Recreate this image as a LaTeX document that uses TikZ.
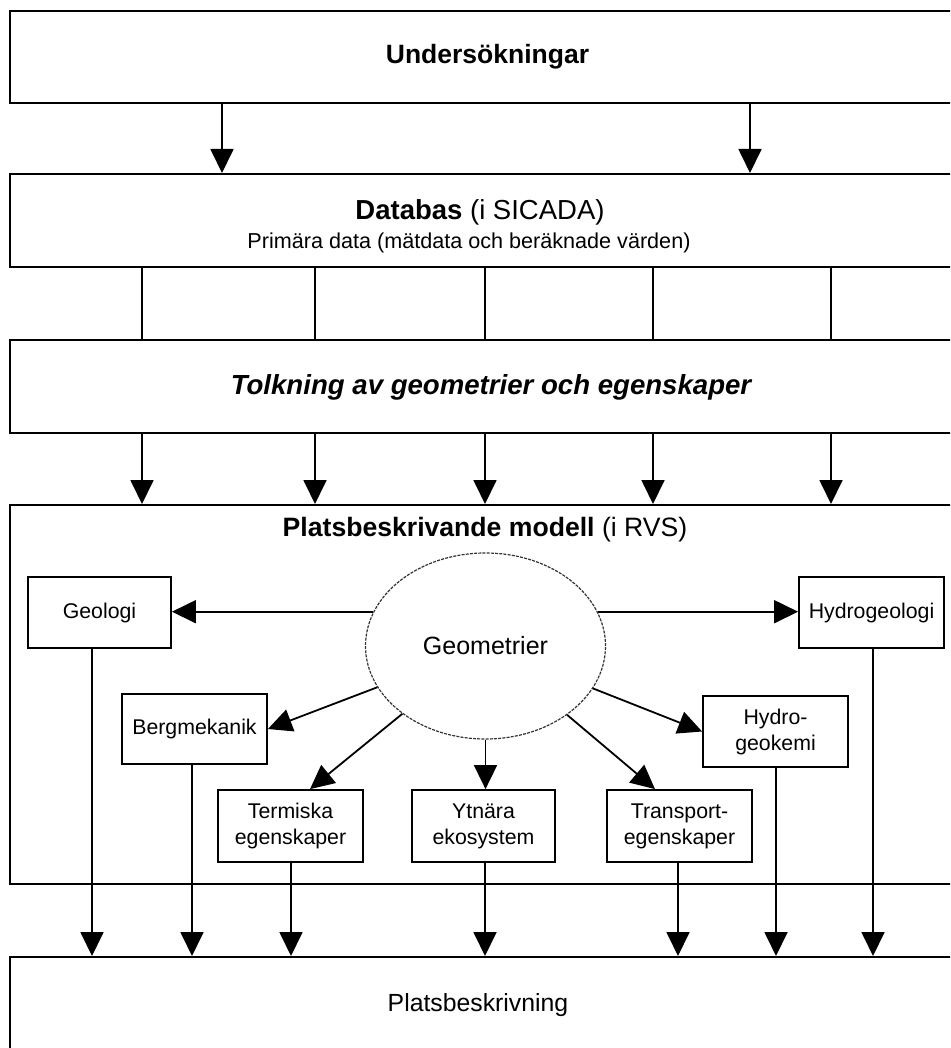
\documentclass[tikz,border=0pt]{standalone}
\usepackage{fontspec}
\setmainfont{Liberation Sans}
\usetikzlibrary{arrows.meta,shapes.geometric}
\begin{document}
\begin{tikzpicture}[x=1pt,y=-1pt,
  bigbox/.style={draw, line width=2pt, minimum width=955pt, inner sep=0pt, align=center, font=\fontsize{26.5}{29}\selectfont},
  smallbox/.style={draw, line width=1.8pt, minimum width=145pt, minimum height=71pt, inner sep=2pt, align=center, font=\fontsize{21.3}{26}\selectfont},
  txt/.style={inner sep=0pt},
  arr/.style={line width=1.8pt, -{Triangle[length=24pt,width=23pt]}},
  plainline/.style={line width=1.8pt}]
\useasboundingbox (0,0) rectangle (950,1048);
\clip (0,0) rectangle (950,1048);

% big boxes
\node[bigbox, minimum height=92pt] (und) at (487.5,57) {\textbf{Undersökningar}};
\node[bigbox, minimum height=93pt] (db) at (487.5,220.5) {};
\node[txt, font=\fontsize{27.5}{30}\selectfont] (dbt1) at (480,212) {\textbf{Databas} (i SICADA)};
\node[txt, font=\fontsize{21.6}{26}\selectfont] (dbt2) at (469,243) {Primära data (mätdata och beräknade värden)};
\node[bigbox, minimum height=93pt] (tolk) at (487.5,386) {};
\node[txt, font=\fontsize{27.6}{31}\selectfont\bfseries\itshape] (tolkt) at (491,387) {Tolkning av geometrier och egenskaper};
\node[bigbox, minimum height=379pt] (pbm) at (487.5,694.5) {};
\node[txt, font=\fontsize{26.6}{31}\selectfont] (pbmt) at (485,530) {\textbf{Platsbeskrivande modell} (i RVS)};
\node[bigbox, minimum height=100pt] (pb) at (487.5,1007) {};
\node[txt, font=\fontsize{24.8}{30}\selectfont] (pbt) at (478,1005) {Platsbeskrivning};

% ellipse
\node[ellipse, draw=black!80, dash pattern=on 3pt off 1.2pt, line width=1.2pt, minimum width=240pt, minimum height=186pt, inner sep=0pt, font=\fontsize{25}{30}\selectfont] (geom) at (485.5,646) {Geometrier};

% small boxes
\node[smallbox, minimum width=143pt] (geol) at (99.5,612.5) {Geologi};
\node[smallbox] (hydg) at (871.5,612.5) {Hydrogeologi};
\node[smallbox, minimum height=70pt] (berg) at (194.5,729) {Bergmekanik};
\node[smallbox, minimum height=72pt] (term) at (290.5,826) {Termiska\\egenskaper};
\node[smallbox, minimum height=72pt, minimum width=143pt] (ytn) at (483.5,826) {Ytnära\\ekosystem};
\node[smallbox, minimum height=72pt] (trans) at (679.5,826) {Transport-\\egenskaper};
\node[smallbox] (hgk) at (775.5,731.5) {Hydro-\\geokemi};

% column coordinates
\coordinate (a1) at (222,0);
\coordinate (a2) at (750,0);
\coordinate (c1) at (142,0);
\coordinate (c2) at (315,0);
\coordinate (c3) at (485,0);
\coordinate (c4) at (653,0);
\coordinate (c5) at (831,0);
\coordinate (b1) at (92,0);
\coordinate (b2) at (192,0);
\coordinate (b3) at (291,0);
\coordinate (b4) at (485,0);
\coordinate (b5) at (678,0);
\coordinate (b6) at (776,0);
\coordinate (b7) at (873,0);

% und -> db
\draw[arr] (und.south -| a1) -- (db.north -| a1);
\draw[arr] (und.south -| a2) -- (db.north -| a2);

% db -- tolk -> pbm
\foreach \c in {c1,c2,c3,c4,c5} {
  \draw[plainline] (db.south -| \c) -- (tolk.north -| \c);
  \draw[arr] (tolk.south -| \c) -- (pbm.north -| \c);
}

% ellipse arrows
\draw[arr] (geom.163) -- (geom.163 -| geol.east);
\draw[arr] (geom.17) -- (geom.17 -| hydg.west);
\draw[arr] (geom) -- (berg.east);
\coordinate (tt) at ([xshift=19.5pt]term.north);
\draw[arr] (geom) -- (tt);
\draw[arr] (geom) -- (geom |- ytn.north);
\coordinate (tr) at ([xshift=-24.5pt]trans.north);
\draw[arr] (geom) -- (tr);
\draw[arr] (geom) -- (hgk.west);

% bottom arrows
\draw[arr] (geol.south -| b1) -- (pb.north -| b1);
\draw[arr] (berg.south -| b2) -- (pb.north -| b2);
\draw[arr] (term.south -| b3) -- (pb.north -| b3);
\draw[arr] (ytn.south -| b4) -- (pb.north -| b4);
\draw[arr] (trans.south -| b5) -- (pb.north -| b5);
\draw[arr] (hgk.south -| b6) -- (pb.north -| b6);
\draw[arr] (hydg.south -| b7) -- (pb.north -| b7);
\end{tikzpicture}
\end{document}
